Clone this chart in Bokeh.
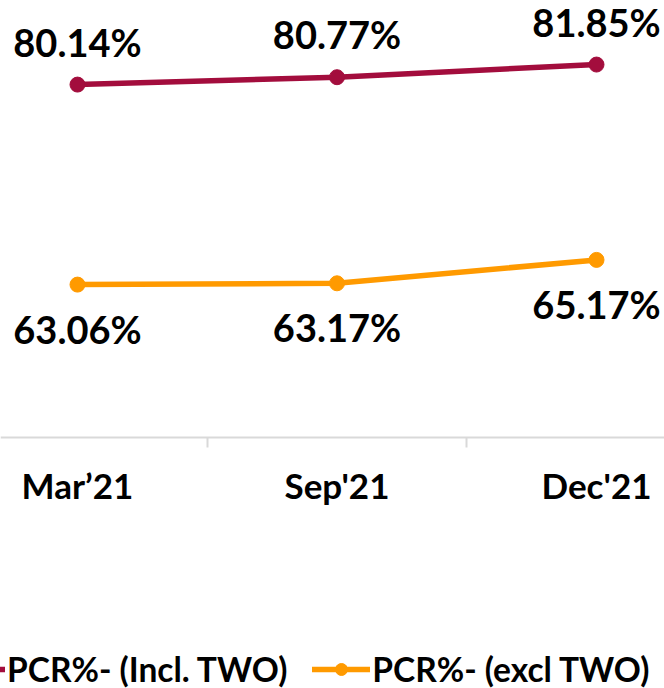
from bokeh.plotting import figure
from bokeh.models import Range1d, FixedTicker, Legend, LegendItem, ColumnDataSource
from bokeh.core.properties import value
from bokeh.embed import file_html
from bokeh.resources import INLINE

categories = ["Mar’21", "Sep'21", "Dec'21"]
incl_two = [80.14, 80.77, 81.85]
excl_two = [63.06, 63.17, 65.17]
series_names = ["PCR%- (Incl. TWO)", "PCR%- (excl TWO)"]
axis_base = 50

CRIMSON = "#A30D3D"
ORANGE = "#FF9A00"
FONT = "Lato"

xs = list(range(len(categories)))
src_a = ColumnDataSource(dict(x=xs, y=incl_two, t=[f"{v:.2f}%" for v in incl_two]))
src_b = ColumnDataSource(dict(x=xs, y=excl_two, t=[f"{v:.2f}%" for v in excl_two]))

p = figure(width=664, height=688, output_backend="svg", toolbar_location=None,
           x_range=Range1d(-0.2967, 2.2620), y_range=Range1d(28.57, 87.32),
           min_border_left=0, min_border_right=0, min_border_top=0, min_border_bottom=0)
p.outline_line_color = None
p.xgrid.visible = False
p.ygrid.visible = False
p.yaxis.visible = False

ax = p.xaxis[0]
ax.fixed_location = axis_base
ax.ticker = FixedTicker(ticks=xs, minor_ticks=[i + 0.5 for i in xs[:-1]])
ax.major_label_overrides = {i: c for i, c in zip(xs, categories)}
ax.axis_line_color = "#D9D9D9"
ax.axis_line_width = 2
ax.major_tick_line_color = None
ax.major_tick_in = 0
ax.major_tick_out = 0
ax.minor_tick_line_color = "#D9D9D9"
ax.minor_tick_line_width = 2
ax.minor_tick_in = 0
ax.minor_tick_out = 10
ax.major_label_standoff = 16
ax.major_label_text_font = FONT
ax.major_label_text_font_style = "bold"
ax.major_label_text_font_size = "35px"
ax.major_label_text_color = "black"

la = p.line("x", "y", source=src_a, line_color=CRIMSON, line_width=5.5, line_cap="round")
ca = p.scatter("x", "y", source=src_a, size=15, fill_color=CRIMSON, line_color=CRIMSON)
lb = p.line("x", "y", source=src_b, line_color=ORANGE, line_width=5.5, line_cap="round")
cb = p.scatter("x", "y", source=src_b, size=15, fill_color=ORANGE, line_color=ORANGE)

p.text("x", "y", text="t", source=src_a, text_font=value(FONT), text_font_style="bold",
       text_font_size="38px", text_color="black", text_align="center",
       text_baseline="middle", y_offset=-43)
p.text("x", "y", text="t", source=src_b, text_font=value(FONT), text_font_style="bold",
       text_font_size="38px", text_color="black", text_align="center",
       text_baseline="middle", y_offset=44)

legend = Legend(items=[LegendItem(label=series_names[0], renderers=[la, ca]),
                       LegendItem(label=series_names[1], renderers=[lb, cb])],
                location=(-53, -1), orientation="horizontal",
                label_text_font=FONT, label_text_font_style="bold",
                label_text_font_size="33.5px", label_text_color="black",
                glyph_width=58, glyph_height=30, label_standoff=2, spacing=25,
                padding=0, margin=0, border_line_color=None, background_fill_alpha=0)
p.add_layout(legend, "center")

open("out.html", "w").write(file_html(p, INLINE))
